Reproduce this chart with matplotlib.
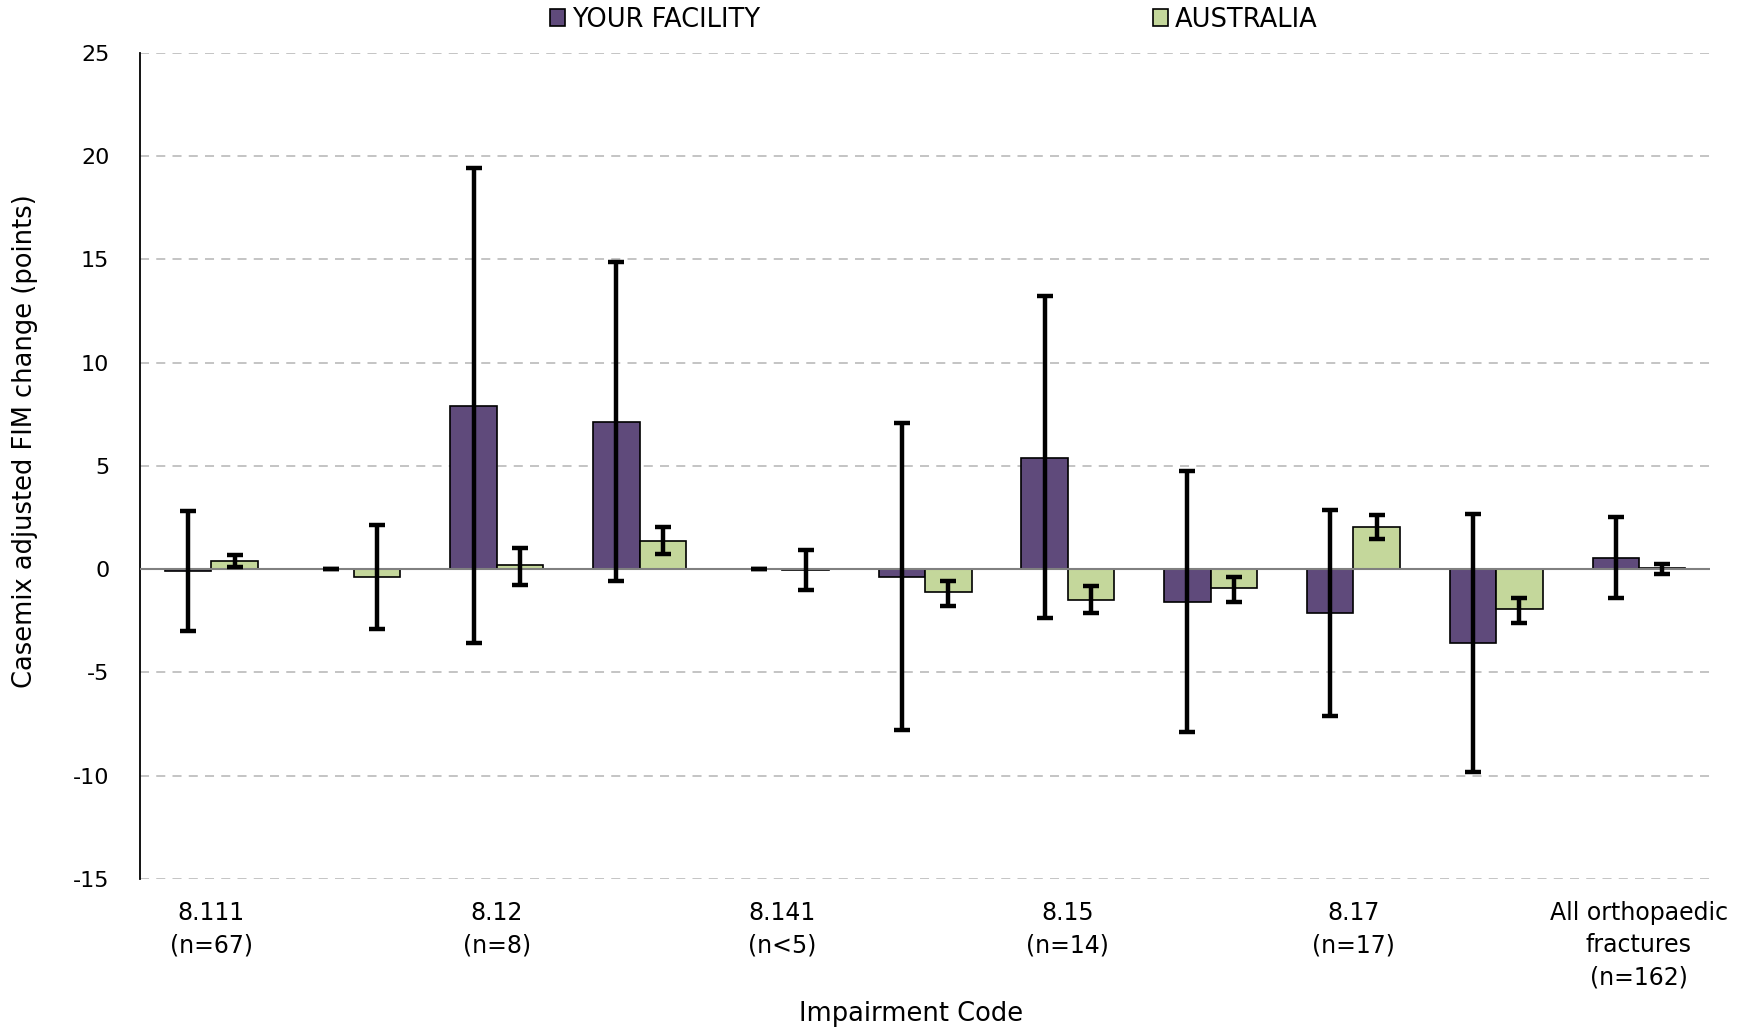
import numpy as np
import matplotlib
matplotlib.use("Agg")
import matplotlib.pyplot as plt
from matplotlib.patches import Patch

plt.rcParams['font.family'] = ['DejaVu Sans']

# ---- data ----
tick_labels = ["8.111\n(n=67)", "", "8.12\n(n=8)", "", "8.141\n(n<5)", "",
               "8.15\n(n=14)", "", "8.17\n(n=17)", "",
               "All orthopaedic\nfractures\n(n=162)"]

facility = [-0.1, np.nan, 7.9, 7.1, np.nan, -0.37, 5.37, -1.6, -2.15, -3.6, 0.55]
facility_lo = [-3.0, 0.0, -3.6, -0.57, 0.0, -7.8, -2.37, -7.88, -7.1, -9.82, -1.4]
facility_hi = [2.83, 0.0, 19.4, 14.88, 0.0, 7.05, 13.2, 4.73, 2.88, 2.69, 2.51]

australia = [0.37, -0.38, 0.18, 1.36, -0.05, -1.1, -1.5, -0.93, 2.05, -1.94, 0.06]
australia_lo = [0.12, -2.9, -0.76, 0.73, -1.03, -1.77, -2.12, -1.59, 1.47, -2.59, -0.24]
australia_hi = [0.7, 2.13, 1.02, 2.02, 0.9, -0.56, -0.84, -0.39, 2.61, -1.4, 0.24]

series_names = ["YOUR FACILITY", "AUSTRALIA"]
c_fac = "#5F4A7B"
c_aus = "#C4D79B"

# ---- figure ----
fig = plt.figure(figsize=(17.47, 10.32), dpi=100)
ax = fig.add_axes([0.0801, 0.1483, 0.979 - 0.0801, 0.949 - 0.1483])

x = np.arange(len(tick_labels))
w = 0.325

fac = np.array(facility, dtype=float)
aus = np.array(australia, dtype=float)
fac_err_pos = np.where(np.isnan(fac), 0.0, fac)

ax.bar(x - w / 2, fac, width=w, color=c_fac, edgecolor="black", linewidth=1.2, zorder=3)
ax.bar(x + w / 2, aus, width=w, color=c_aus, edgecolor="black", linewidth=1.2, zorder=3)

ekw = dict(fmt="none", ecolor="black", elinewidth=3.2, capsize=6, capthick=3.2, zorder=4)
ax.errorbar(x - w / 2, fac_err_pos,
            yerr=[fac_err_pos - np.array(facility_lo), np.array(facility_hi) - fac_err_pos], **ekw)
ax.errorbar(x + w / 2, aus,
            yerr=[aus - np.array(australia_lo), np.array(australia_hi) - aus], **ekw)

ax.set_xlim(-0.5, len(tick_labels) - 0.5)
ax.set_ylim(-15, 25)
ax.set_yticks(np.arange(-15, 26, 5))
ax.set_yticklabels([str(v) for v in range(-15, 26, 5)], fontsize=16)
ax.set_xticks(x)
ax.set_xticklabels(tick_labels, fontsize=17, linespacing=1.42, va="top")
ax.tick_params(axis="both", length=0)
ax.tick_params(axis="x", pad=16)
ax.tick_params(axis="y", pad=22)

for yv in range(-15, 26, 5):
    if yv != 0:
        ax.axhline(yv, color="#BFBFBF", linestyle=(0, (5, 4)), linewidth=1.3, zorder=1)
ax.axhline(0, color="#808080", linewidth=1.5, zorder=3.5)

for s in ["top", "right", "bottom"]:
    ax.spines[s].set_visible(False)
ax.spines["left"].set_color("black")
ax.spines["left"].set_linewidth(1.3)

fig.text(0.0145, 0.573, "Casemix adjusted FIM change (points)", rotation=90,
         ha="center", va="center", fontsize=18.5)
fig.text(0.5215, 0.0175, "Impairment Code", ha="center", va="center", fontsize=18.5)

handles = [Patch(facecolor=c_fac, edgecolor="black", linewidth=1.2),
           Patch(facecolor=c_aus, edgecolor="black", linewidth=1.2)]
leg = fig.legend(handles, series_names, loc="center", bbox_to_anchor=(0.5345, 0.981),
                 ncol=2, frameon=False, fontsize=18.5, handlelength=0.6, handleheight=0.6,
                 handletextpad=0.25, columnspacing=15.3)

fig.savefig("out.png", dpi=100)
